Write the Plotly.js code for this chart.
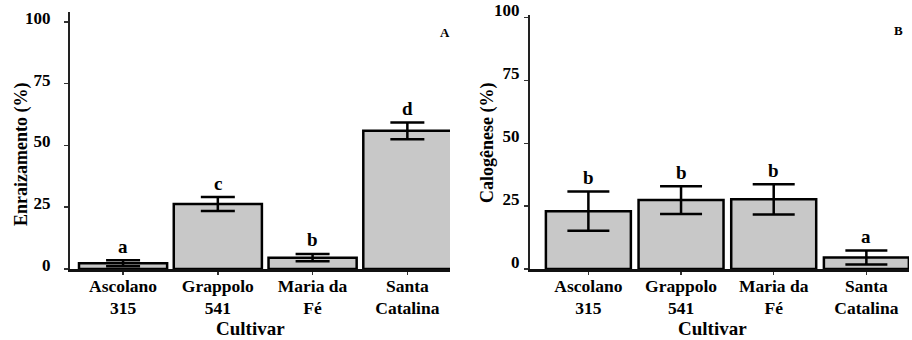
<!DOCTYPE html>
<html>
<head>
<meta charset="utf-8">
<script src="https://cdn.plot.ly/plotly-3.0.1.min.js"></script>
<style>html,body{margin:0;padding:0;background:#fff;}#chart{width:912px;height:340px;}</style>
</head>
<body>
<div id="chart"></div>
<script>
const cultivars = ["Ascolano<br>315", "Grappolo<br>541", "Maria da<br>Fé", "Santa<br>Catalina"];
const enraizamento = [2.3, 26.3, 4.6, 55.9];
const enraizamentoErr = [1.2, 2.8, 1.5, 3.4];
const enraizamentoLetters = ["a", "c", "b", "d"];
const calogenese = [23.0, 27.4, 27.7, 4.6];
const calogeneseErr = [7.8, 5.5, 6.0, 2.8];
const calogeneseLetters = ["b", "b", "b", "a"];
const yTicks = [0, 25, 50, 75, 100];

const FONT = "'Liberation Serif', 'Times New Roman', Times, serif";
const barStyle = {
  type: "bar",
  marker: {color: "#c8c8c8", line: {color: "#000", width: 2.5}},
  hoverinfo: "skip"
};
const traceA = Object.assign({}, barStyle, {
  x: [0, 1, 2, 3], y: enraizamento, width: 0.93, xaxis: "x", yaxis: "y",
  error_y: {type: "data", array: enraizamentoErr, visible: true, color: "#000", thickness: 2.5, width: 17}
});
const traceB = Object.assign({}, barStyle, {
  x: [0, 1, 2, 3], y: calogenese, width: 0.917, xaxis: "x2", yaxis: "y2",
  error_y: {type: "data", array: calogeneseErr, visible: true, color: "#000", thickness: 2.5, width: 21}
});

const ann = [];
function letters(vals, errs, labs, xr, yr) {
  vals.forEach((v, i) => {
    ann.push({x: i, y: v + errs[i], xref: xr, yref: yr, text: labs[i], showarrow: false,
      xanchor: "center", yanchor: "middle", yshift: 14, font: {family: FONT, size: 19, color: "#000", weight: "bold"}});
  });
}
letters(enraizamento, enraizamentoErr, enraizamentoLetters, "x", "y");
letters(calogenese, calogeneseErr, calogeneseLetters, "x2", "y2");

const titleFont = {family: FONT, size: 18, color: "#000", weight: "bold"};
function pa(px, py, text, font, angle) {
  ann.push({xref: "paper", yref: "paper", x: px/912, y: (269-py)/259, text: text, showarrow: false,
    xanchor: "center", yanchor: "middle", textangle: angle || 0, font: font});
}
pa(250, 328.5, "Cultivar", {family: FONT, size: 19, color: "#000", weight: "bold"});
pa(712, 328.5, "Cultivar", {family: FONT, size: 19, color: "#000", weight: "bold"});
pa(21, 155, "Enraizamento (%)", titleFont, -90);
pa(487, 143, "Calogênese (%)", titleFont, -90);
pa(445, 32, "A", {family: FONT, size: 13, color: "#000", weight: "bold"});
pa(898, 31, "B", {family: FONT, size: 13, color: "#000", weight: "bold"});

const tickFont = {family: FONT, size: 17.5, color: "#000", weight: "bold"};
const xBase = {
  tickmode: "array", tickvals: [0, 1, 2, 3], ticktext: cultivars,
  showline: true, linecolor: "#111", linewidth: 2.5, ticks: "outside", ticklen: 3, tickwidth: 1.5, tickcolor: "#333",
  showgrid: false, zeroline: false, tickfont: tickFont, fixedrange: true, ticklabelstandoff: -4
};
const yBase = {
  tickmode: "array", tickvals: yTicks, ticktext: yTicks.map(String),
  showline: true, linecolor: "#222", linewidth: 2, ticks: "outside", ticklen: 4, tickwidth: 1.5, tickcolor: "#333",
  showgrid: false, zeroline: false, tickfont: {family: FONT, size: 17, color: "#000", weight: "bold"}, fixedrange: true
};

const layout = {
  width: 912, height: 340,
  margin: {l: 0, r: 0, t: 10, b: 71},
  paper_bgcolor: "#fff", plot_bgcolor: "#fff",
  showlegend: false,
  xaxis: Object.assign({}, xBase, {domain: [70/912, 450/912], range: [-0.56, 3.45], anchor: "y"}),
  yaxis: Object.assign({}, yBase, {domain: [0, 257/259], range: [0, 104], anchor: "x", ticklabelshift: -4, ticklabelstandoff: 10}),
  xaxis2: Object.assign({}, xBase, {domain: [530/912, 909/912], range: [-0.63, 3.46], anchor: "y2"}),
  yaxis2: Object.assign({}, yBase, {domain: [0, 254/259], range: [0, 101], anchor: "x2", ticklabelshift: -7, ticklabelstandoff: 1}),
  annotations: ann
};

Plotly.newPlot("chart", [traceA, traceB], layout, {displayModeBar: false, staticPlot: true});
</script>
</body>
</html>
